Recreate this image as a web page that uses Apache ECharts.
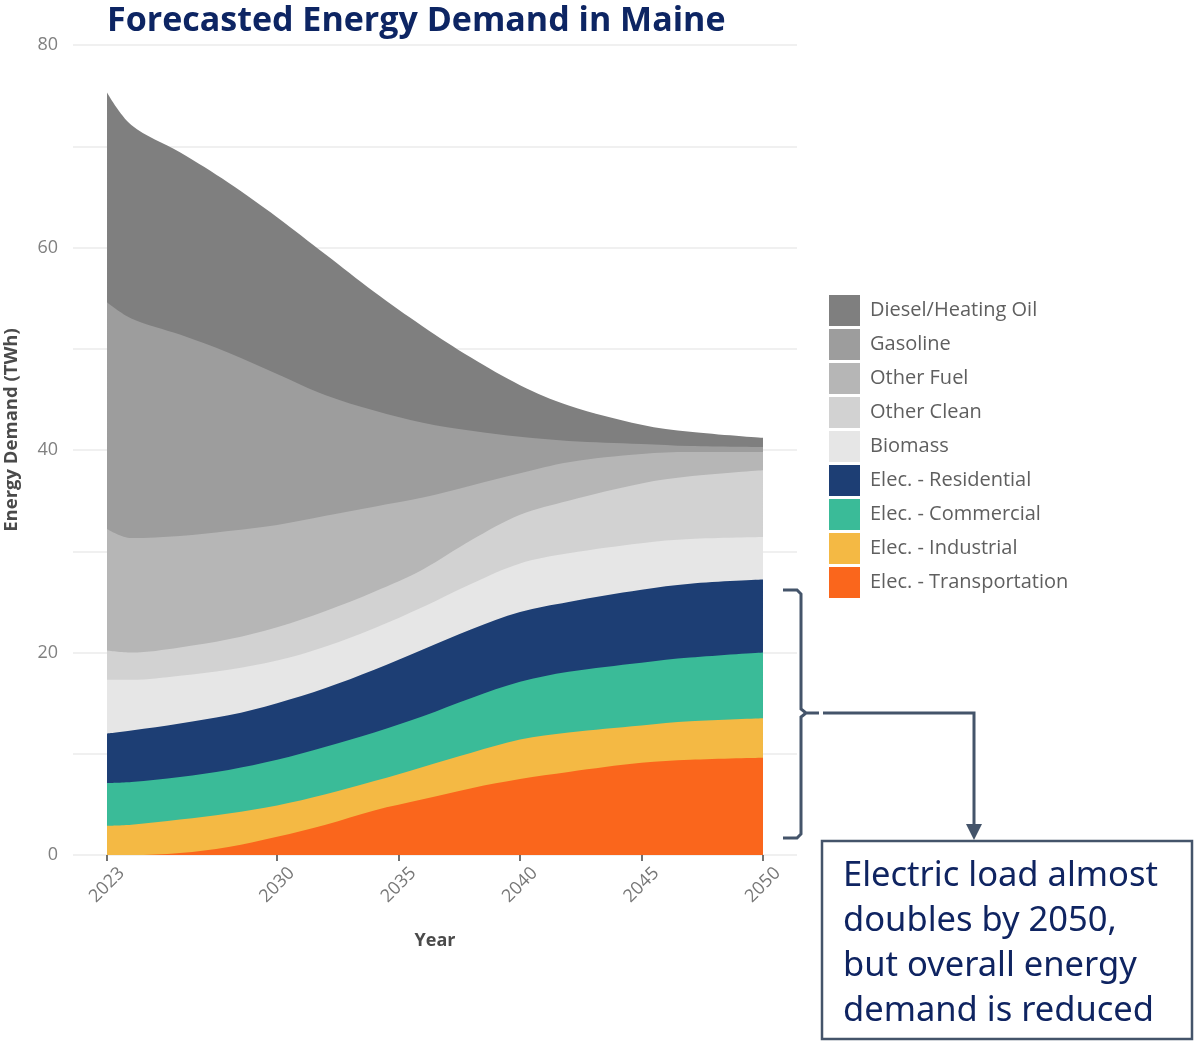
<!DOCTYPE html>
<html><head><meta charset="utf-8">
<script src="https://cdn.jsdelivr.net/npm/echarts@6/dist/echarts.min.js"></script>
<style>html,body{margin:0;padding:0;background:#fff}#c{width:1194px;height:1041px}</style>
</head><body><div id="c"></div>
<script>
// Years of the forecast (x values)
const years = [2023, 2024, 2026, 2028, 2030, 2032, 2034, 2036, 2038, 2040, 2042, 2045, 2047, 2050];
// Energy demand by source (TWh) (bottom of the stack first)
const elecTransportation = [0, 0, 0.2, 0.8, 1.8, 3.0, 4.4, 5.5, 6.6, 7.5, 8.2, 9.1, 9.4, 9.6];
const elecIndustrial     = [2.9, 3.0, 3.3, 3.3, 3.1, 3.0, 2.9, 3.2, 3.5, 3.9, 3.9, 3.7, 3.8, 3.9];
const elecCommercial     = [4.2, 4.2, 4.2, 4.3, 4.5, 4.7, 4.8, 5.0, 5.4, 5.7, 6.0, 6.2, 6.3, 6.5];
const elecResidential    = [4.9, 5.1, 5.3, 5.4, 5.6, 5.8, 6.2, 6.6, 6.8, 6.9, 6.9, 7.2, 7.3, 7.2];
const biomass            = [5.3, 5.0, 4.7, 4.5, 4.2, 4.1, 4.1, 4.2, 4.5, 4.8, 4.8, 4.6, 4.4, 4.2];
const otherClean         = [2.9, 2.7, 2.8, 3.0, 3.3, 3.5, 3.6, 3.7, 4.3, 4.8, 5.2, 5.9, 6.2, 6.6];
const otherFuel          = [12.0, 11.3, 11.0, 10.7, 10.1, 9.4, 8.4, 7.1, 5.4, 4.1, 3.8, 2.9, 2.4, 1.8];
const gasoline           = [22.4, 21.7, 19.9, 17.6, 14.9, 11.9, 9.5, 7.4, 5.4, 3.6, 2.1, 1.0, 0.6, 0.5];
const dieselHeatingOil   = [20.7, 19.1, 18.0, 16.8, 15.5, 13.9, 11.7, 9.5, 7.2, 5.1, 3.5, 1.9, 1.4, 0.9];
// Tick labels
const xTickYears = [2023, 2030, 2035, 2040, 2045, 2050];
const yTickLabels = [0, 20, 40, 60, 80];
const seriesNames = ['Elec. - Transportation', 'Elec. - Industrial', 'Elec. - Commercial', 'Elec. - Residential',
  'Biomass', 'Other Clean', 'Other Fuel', 'Gasoline', 'Diesel/Heating Oil'];
const seriesValues = [elecTransportation, elecIndustrial, elecCommercial, elecResidential,
  biomass, otherClean, otherFuel, gasoline, dieselHeatingOil];
const seriesColors = ['#fa661c', '#f4b944', '#3abb98', '#1d3e74', '#e6e6e6', '#d2d2d2', '#b6b6b6', '#9d9d9d', '#7f7f7f'];

// Stack the layers (cumulative totals), then draw from the top layer down so lower layers sit above.
const cumulative = [];
seriesValues.forEach((vals, i) => {
  cumulative.push(vals.map((v, j) => +(v + (i ? cumulative[i - 1][j] : 0)).toFixed(3)));
});
const series = seriesNames.map((name, i) => ({
  name, type: 'line', smooth: 0.35, symbol: 'none',
  lineStyle: {width: 0}, itemStyle: {color: seriesColors[i]},
  areaStyle: {color: seriesColors[i], opacity: 1, origin: 'start'},
  data: years.map((y, j) => [y, cumulative[i][j]])
})).reverse();

const chart = echarts.init(document.getElementById('c'), null, {renderer: 'canvas'});
const border = '#44546a';
chart.setOption({
  animation: false,
  backgroundColor: '#fff',
  title: {
    text: 'Forecasted Energy Demand in Maine', left: 107, top: 4, padding: 0,
    textStyle: {fontFamily: 'Open Sans', fontWeight: 'bold', fontSize: 34, color: '#0d2563'}
  },
  grid: {left: 73, right: 397, top: 45, bottom: 186, outerBoundsMode: 'none', containLabel: false},
  legend: {
    orient: 'vertical', left: 829, top: 295, padding: 0, itemWidth: 31, itemHeight: 31, itemGap: 3,
    icon: 'rect', selectedMode: false,
    data: seriesNames.slice().reverse(),
    textStyle: {fontFamily: 'Open Sans', fontSize: 20, color: '#5f5f5f', padding: [0, 0, 0, 5]}
  },
  xAxis: {
    type: 'value', min: 2021.6, max: 2051.4,
    name: 'Year', nameLocation: 'middle', nameGap: 77,
    nameTextStyle: {fontFamily: 'Open Sans', fontWeight: 'bold', fontSize: 18, color: '#4a4a4a'},
    axisLine: {show: false},
    axisTick: {show: true, customValues: xTickYears, length: 6, lineStyle: {color: '#444', width: 1.5}},
    axisLabel: {customValues: xTickYears, rotate: 45, align: 'center', verticalAlign: 'middle', margin: 30,
      fontFamily: 'Open Sans', fontSize: 18, color: '#777', formatter: v => String(v)},
    splitLine: {show: false}
  },
  yAxis: {
    type: 'value', min: 0, max: 80, interval: 10,
    name: 'Energy Demand (TWh)', nameLocation: 'middle', nameGap: 52,
    nameTextStyle: {fontFamily: 'Open Sans', fontWeight: 'bold', fontSize: 18.5, color: '#4a4a4a', padding: [0, 0, 0, 40]},
    axisLine: {show: false}, axisTick: {show: false},
    axisLabel: {margin: 15, fontFamily: 'Open Sans', fontSize: 18, color: '#808080',
      formatter: v => (yTickLabels.indexOf(v) >= 0 ? String(v) : '')},
    splitLine: {lineStyle: {color: '#ebebeb', width: 1.5}}
  },
  series,
  graphic: [
    {type: 'polyline', shape: {points: [[783,590],[797,590],[801,594],[801,709],[806,713],[819,713],[806,713],[801,717],[801,834],[797,838],[783,838]]},
      style: {stroke: border, lineWidth: 3, fill: null}},
    {type: 'polyline', shape: {points: [[823,713],[974,713],[974,826]]}, style: {stroke: border, lineWidth: 3, fill: null}},
    {type: 'polygon', shape: {points: [[966,824],[982,824],[974,840]]}, style: {fill: border}},
    {type: 'rect', shape: {x: 822, y: 841, width: 370, height: 198}, style: {stroke: border, lineWidth: 2.5, fill: '#fff'}},
    {type: 'text', x: 843, y: 854, style: {
      text: 'Electric load almost\ndoubles by 2050,\nbut overall energy\ndemand is reduced',
      fontFamily: 'Noto Sans', fontSize: 34.5, lineHeight: 45, fill: '#0f2461'}}
  ]
});
</script></body></html>
